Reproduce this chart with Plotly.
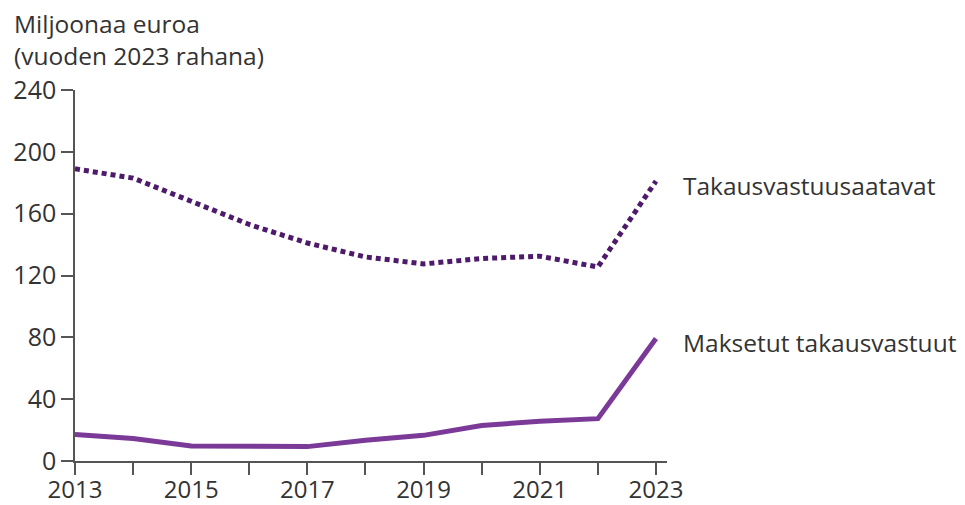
import plotly.graph_objects as go

# Values (million euros, 2023 money)
years = [2013, 2014, 2015, 2016, 2017, 2018, 2019, 2020, 2021, 2022, 2023]
takausvastuusaatavat = [189, 183, 168, 153, 141, 132, 127.5, 131, 132.5, 125.5, 181]
maksetut = [17.2, 14.5, 9.7, 9.3, 9.3, 13.4, 16.6, 23, 25.7, 27.4, 79.3]

y_ticks = [0, 40, 80, 120, 160, 200, 240]
x_tick_labels = [str(y) if (y - 2013) % 2 == 0 else "" for y in years]

colors = {
    'solid': '#7B3A98',
    'dotted': '#4E1A6B',
    'text': '#333333',
    'axis': '#555555',
}
font_family = "Open Sans"

fig = go.Figure()

fig.add_trace(go.Scatter(
    x=years, y=takausvastuusaatavat, mode="lines",
    line=dict(color=colors['dotted'], width=5, dash="5px,4px"),
    name="Takausvastuusaatavat",
))
fig.add_trace(go.Scatter(
    x=years, y=maksetut, mode="lines",
    line=dict(color=colors['solid'], width=5),
    name="Maksetut takausvastuut",
))

# series labels at the right end of each line
for name, vals in [("Takausvastuusaatavat", takausvastuusaatavat),
                   ("Maksetut takausvastuut", maksetut)]:
    fig.add_annotation(
        x=years[-1], y=vals[-1], text=name, showarrow=False,
        xanchor="left", yanchor="middle", xshift=25, yshift=-4,
        font=dict(size=24.5, color=colors['text'], family=font_family),
    )

fig.add_annotation(
    xref="paper", yref="paper", x=-0.107, y=1.229,
    text="Miljoonaa euroa<br>(vuoden 2023 rahana)",
    showarrow=False, xanchor="left", yanchor="top", align="left",
    font=dict(size=24.5, color=colors['text'], family=font_family),
)

# page body has an 8px margin, so the figure is sized to fit inside it
fig.update_layout(
    width=957, height=497,
    paper_bgcolor="white", plot_bgcolor="white",
    showlegend=False,
    font=dict(family=font_family, size=24, color=colors['text']),
    margin=dict(l=67, r=298, t=82, b=44),
    xaxis=dict(
        range=[2013, 2023.19],
        tickvals=years, ticktext=x_tick_labels,
        ticks="outside", ticklen=12, tickwidth=1.5, tickcolor=colors['axis'],
        showline=True, linecolor=colors['axis'], linewidth=1.5,
        showgrid=False, zeroline=False, automargin=False,
        ticklabelstandoff=-6,
        tickfont=dict(size=24, color=colors['text']),
    ),
    yaxis=dict(
        range=[0, 240],
        tickvals=y_ticks,
        ticks="outside", ticklen=12, tickwidth=1.5, tickcolor=colors['axis'],
        showline=True, linecolor=colors['axis'], linewidth=1.5,
        showgrid=False, zeroline=False, automargin=False,
        tickfont=dict(size=25, color=colors['text']),
    ),
)

fig.write_html("out.html")
